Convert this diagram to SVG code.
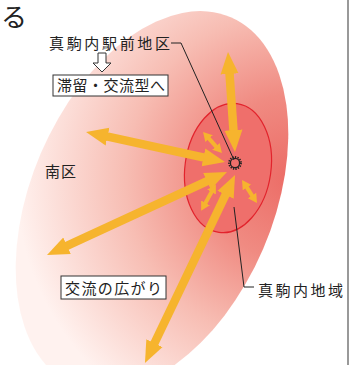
<svg xmlns="http://www.w3.org/2000/svg" width="359" height="365" viewBox="0 0 359 365">
<style>
.t{font-family:"Noto Sans CJK JP","Noto Sans",sans-serif;fill:#222;font-size:15px}
.box{fill:#fff;stroke:#333;stroke-width:1}
.lead{fill:none;stroke:#222;stroke-width:1}
.big{stroke:#f6b42e;stroke-width:8.5;fill:none;marker-start:url(#hb);marker-end:url(#hb)}
.sm{stroke:#f6b42e;stroke-width:4;fill:none;marker-start:url(#hs);marker-end:url(#hs)}
</style>
<defs>
<radialGradient id="g" gradientUnits="userSpaceOnUse" cx="270" cy="125" r="275">
<stop offset="0" stop-color="#ec6c66"/>
<stop offset="0.3" stop-color="#f08b82"/>
<stop offset="0.6" stop-color="#f7bdb3"/>
<stop offset="1" stop-color="#fff2ef"/>
</radialGradient>
<marker id="hb" markerUnits="userSpaceOnUse" markerWidth="24" markerHeight="20" viewBox="0 -10 24 20" refX="2" refY="0" orient="auto-start-reverse">
<path d="M0,-9 L22,0 L0,9 Z" fill="#f6b42e"/>
</marker>
<marker id="hs" markerUnits="userSpaceOnUse" markerWidth="11" markerHeight="12" viewBox="0 -6 11 12" refX="1" refY="0" orient="auto-start-reverse">
<path d="M0,-5 L9,0 L0,5 Z" fill="#f6b42e"/>
</marker>
</defs>
<rect width="359" height="365" fill="#fff"/>
<line x1="348" y1="0" x2="348" y2="365" stroke="#777" stroke-width="1.5"/>
<text class="t" x="1" y="27" style="font-size:26px">る</text>
<g id="south-district">
<ellipse cx="152" cy="201" rx="121" ry="200" transform="rotate(23.2 152 201)" fill="url(#g)"/>
<text class="t" x="45" y="177" letter-spacing="1">南区</text>
</g>
<g id="makomanai-area">
<ellipse cx="228" cy="168" rx="43" ry="65" transform="rotate(8 228 168)" fill="#ef6f6b" stroke="#e2232c" stroke-width="1.2"/>
</g>
<g id="connectors">
<line class="big" x1="229.4" y1="72" x2="233.6" y2="132"/>
<line class="big" x1="105.6" y1="136.2" x2="205.4" y2="157.8"/>
<line class="big" x1="65.2" y1="246.6" x2="208.8" y2="180.4"/>
<line class="big" x1="153.6" y1="345" x2="226.4" y2="193"/>
<line class="sm" x1="208.4" y1="137.9" x2="216.6" y2="147.1"/>
<line class="sm" x1="205" y1="203.8" x2="212" y2="191.2"/>
<line class="sm" x1="246.4" y1="186.7" x2="252.6" y2="196.3"/>
<polyline class="lead" points="171,43 181,43 234,160"/>
<polyline class="lead" points="234,207 244,287 254,287"/>
</g>
<g id="station">
<circle cx="235" cy="163" r="4.6" fill="none" stroke="#222" stroke-width="1.3"/>
<circle cx="235" cy="163" r="6" fill="none" stroke="#222" stroke-width="1.8" stroke-dasharray="1.3 1.2"/>
</g>
<g id="station-label">
<text class="t" x="49" y="49" textLength="121" lengthAdjust="spacing">真駒内駅前地区</text>
</g>
<g id="down-arrow">
<path d="M98,53 H106 V63 H111 L102,72 L93,63 H98 Z" fill="#fff" stroke="#333" stroke-width="1"/>
</g>
<g id="stay-box">
<rect class="box" x="53" y="75" width="115" height="21"/>
<text class="t" x="57" y="91" textLength="108" lengthAdjust="spacing">滞留・交流型へ</text>
</g>
<g id="exchange-box">
<rect class="box" x="61" y="276" width="105" height="23"/>
<text class="t" x="65" y="294" textLength="97" lengthAdjust="spacing">交流の広がり</text>
</g>
<g id="area-label">
<text class="t" x="258" y="296" textLength="85" lengthAdjust="spacing">真駒内地域</text>
</g>
</svg>
